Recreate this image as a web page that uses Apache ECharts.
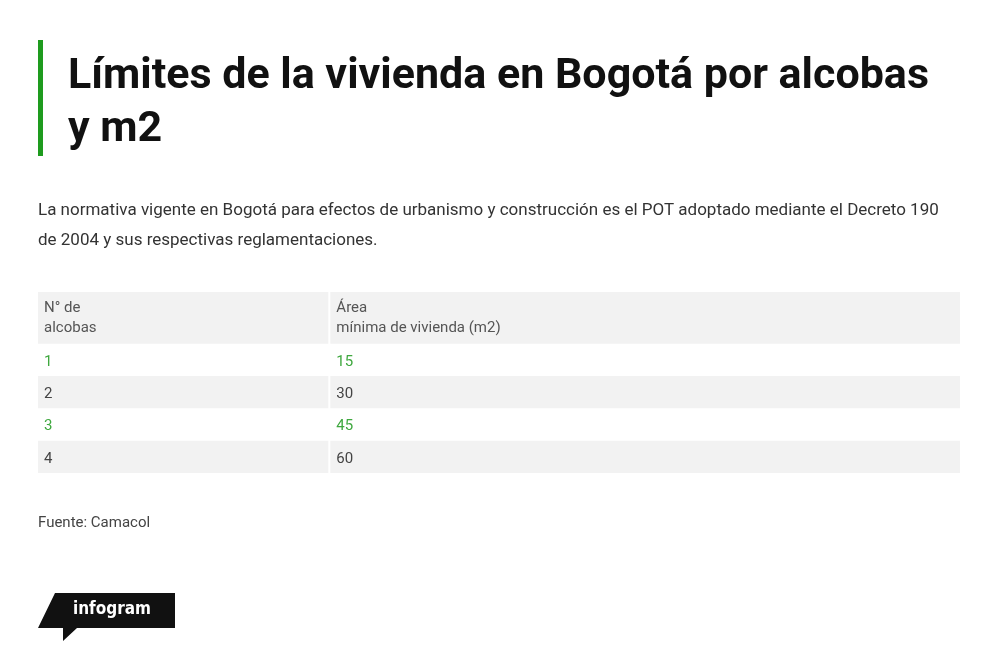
<!DOCTYPE html>
<html>
<head>
<meta charset="utf-8">
<script src="https://cdn.jsdelivr.net/npm/echarts@6/dist/echarts.min.js"></script>
<style>
  html, body { margin: 0; padding: 0; background: #fff; }
  #main { width: 1000px; height: 661px; }
</style>
</head>
<body>
<div id="main"></div>
<script>
// datos de la tabla
var titleLines = ['Límites de la vivienda en Bogotá por alcobas', 'y m2'];
var descLines = [
  'La normativa vigente en Bogotá para efectos de urbanismo y construcción es el POT adoptado mediante el Decreto 190',
  'de 2004 y sus respectivas reglamentaciones.'
];
var headerCol1 = ['N° de', 'alcobas'];
var headerCol2 = ['Área', 'mínima de vivienda (m2)'];
var alcobas = ['1', '2', '3', '4'];
var areaMinima = [15, 30, 45, 60];
var fuente = 'Fuente: Camacol';

var FONT = 'Roboto, "Liberation Sans", sans-serif';
var GREEN = '#3fa83f';
var GRAY = '#f2f2f2';
var HEAD_H = 1.6;   // alto de la cabecera en filas
var COL_SPLIT = 31.6; // division de columnas (0-100)

var rows = [];
rows.push(['head', headerCol1.join('\n'), headerCol2.join('\n')]);
for (var i = 0; i < alcobas.length; i++) {
  rows.push([i, alcobas[i], String(areaMinima[i])]);
}

var renderCell = function(params, api){
  var r = api.value(0);
  var isHead = r === 'head';
  var y0 = isHead ? 0 : HEAD_H + r;
  var y1 = isHead ? HEAD_H : HEAD_H + r + 1;
  var tl = api.coord([0, y0]);
  var br = api.coord([100, y1]);
  var mid = api.coord([COL_SPLIT, y0]);
  var h = br[1] - tl[1];
  var children = [];
  var shaded = isHead || r % 2 === 1;
  if (shaded) {
    children.push({ type: 'rect', shape: { x: tl[0], y: tl[1], width: mid[0] - tl[0] - 1, height: h }, style: { fill: GRAY } });
    children.push({ type: 'rect', shape: { x: mid[0] + 1, y: tl[1], width: br[0] - mid[0] - 1, height: h }, style: { fill: GRAY } });
  }
  var color = isHead ? '#555' : (r % 2 === 0 ? GREEN : '#444');
  var ty = isHead ? tl[1] + 6 : tl[1] + h / 2 + 2;
  var vAlign = isHead ? 'top' : 'middle';
  children.push({ type: 'text', style: { x: tl[0] + 6, y: ty, text: api.value(1), fill: color, font: '15px ' + FONT, verticalAlign: vAlign, lineHeight: 20 } });
  children.push({ type: 'text', style: { x: mid[0] + 7, y: ty, text: api.value(2), fill: color, font: '15px ' + FONT, verticalAlign: vAlign, lineHeight: 20 } });
  return { type: 'group', children: children };
};

var myChart = echarts.init(document.getElementById('main'));
var option = {
  backgroundColor: '#fff',
  animation: false,
  grid: { left: 38, right: 40, top: 292, height: 181 },
  xAxis: { type: 'value', min: 0, max: 100, show: false },
  yAxis: { type: 'value', min: 0, max: HEAD_H + alcobas.length, inverse: true, show: false },
  graphic: [
    { type: 'rect', shape: { x: 38, y: 40, width: 5, height: 116 }, style: { fill: '#1e9b1e' } },
    { type: 'text', style: { x: 68, y: 77, text: titleLines[0], fill: '#111', font: 'bold 43px ' + FONT, verticalAlign: 'middle' } },
    { type: 'text', style: { x: 68, y: 130, text: titleLines[1], fill: '#111', font: 'bold 43px ' + FONT, verticalAlign: 'middle' } },
    { type: 'text', style: { x: 38, y: 211, text: descLines[0], fill: '#333', font: '17px ' + FONT, verticalAlign: 'middle' } },
    { type: 'text', style: { x: 38, y: 241, text: descLines[1], fill: '#333', font: '17px ' + FONT, verticalAlign: 'middle' } },
    { type: 'text', style: { x: 38, y: 523, text: fuente, fill: '#444', font: '15px ' + FONT, verticalAlign: 'middle' } },
    { type: 'polygon', shape: { points: [[38, 628], [55, 593], [175, 593], [175, 628], [77, 628], [63, 641], [63, 628]] }, style: { fill: '#111' } },
    { type: 'text', style: { x: 112, y: 610, text: 'infogram', fill: '#fff', font: 'bold 17px "DejaVu Sans Condensed", sans-serif', align: 'center', verticalAlign: 'middle' } }
  ],
  series: [
    {
      type: 'custom',
      renderItem: renderCell,
      encode: { x: -1, y: -1 },
      data: rows
    }
  ]
};
myChart.setOption(option);
window.onresize = function(){
  myChart.resize();
};
</script>
</body>
</html>
